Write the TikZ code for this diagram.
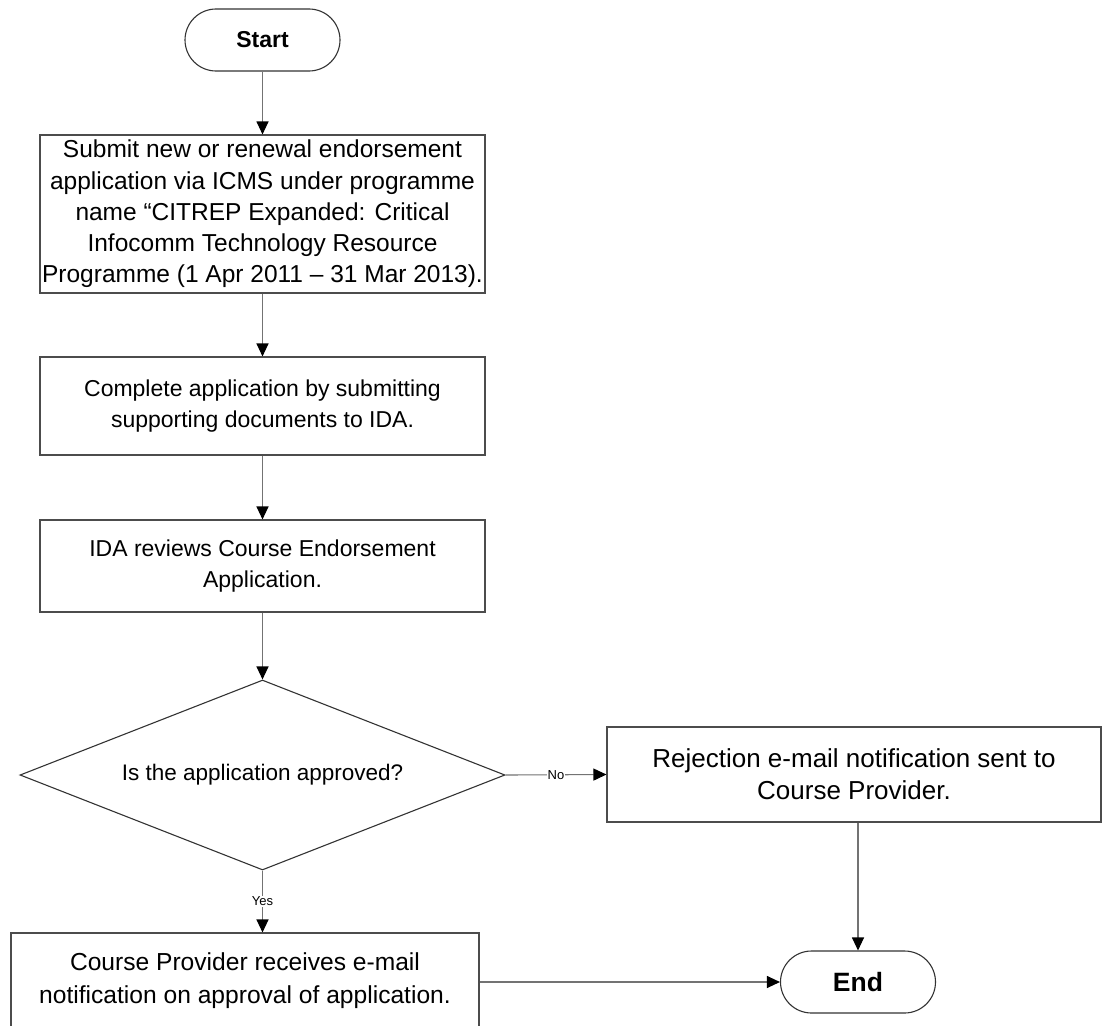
\documentclass[tikz,border=0pt]{standalone}
\usepackage{fontspec}
\setmainfont{Liberation Sans}
\usetikzlibrary{arrows.meta,shapes.geometric,shapes.misc}
\begin{document}
\begin{tikzpicture}[x=1pt,y=-1pt,
 box/.style={draw=black!70, line width=1.1pt, rectangle, align=center, inner sep=0pt, font=\fontsize{23}{31}\selectfont},
 term/.style={draw=black!80, line width=1.1pt, rounded rectangle, minimum width=155pt, minimum height=62pt, font=\fontsize{23}{28}\selectfont\bfseries, inner sep=0pt},
 decision/.style={draw=black!80, line width=1.1pt, diamond, aspect=2.55, minimum width=485pt, minimum height=190pt, inner sep=0pt, font=\fontsize{22.5}{31}\selectfont},
 conn/.style={draw=black!55, line width=1.1pt, -{Triangle[length=13pt,width=12pt,color=black]}},
 lbl/.style={fill=white, font=\fontsize{13}{15}\selectfont, inner sep=1pt}
]
\clip (0,0) rectangle (1102,1025);
\fill[white] (0,0) rectangle (1102,1025);

\node[term] (start) at (262.5,40) {Start};
\node[box, minimum width=445pt, minimum height=158pt, font=\fontsize{24.5}{31.3}\selectfont] (b1) at (262.5,214) {Submit new or renewal endorsement\\application via ICMS under programme\\name “CITREP Expanded: Critical\\Infocomm Technology Resource\\Programme (1 Apr 2011 – 31 Mar 2013).};
\node[box, minimum width=445pt, minimum height=98pt] (b2) at (262.5,406) {Complete application by submitting\\supporting documents to IDA.};
\node[box, minimum width=445pt, minimum height=92pt] (b3) at (262.5,566) {IDA reviews Course Endorsement\\Application.};
\node[decision] (dec) at (262.5,775) {Is the application approved?};
\node[box, minimum width=494pt, minimum height=95pt, font=\fontsize{26}{32}\selectfont] (rej) at (854,774.5) {Rejection e-mail notification sent to\\Course Provider.};
\node[box, minimum width=468pt, minimum height=96pt, font=\fontsize{24.6}{33}\selectfont] (bot) at (245,981) {Course Provider receives e-mail\\notification on approval of application.};
\node[term, font=\fontsize{26.5}{30}\selectfont\bfseries] (end) at (858,982) {End};

\draw[conn] (start.south) -- (start.south |- b1.north);
\draw[conn] (b1.south) -- (b2.north);
\draw[conn] (b2.south) -- (b3.north);
\draw[conn] (b3.south) -- (dec.north);
\draw[conn] (dec.east) -- node[lbl]{No} (rej.west);
\draw[conn] (dec.south) -- node[lbl]{Yes} (dec.south |- bot.north);
\draw[conn] (bot.east |- end.west) -- (end.west);
\draw[conn] (end.north |- rej.south) -- (end.north);
\end{tikzpicture}
\end{document}
